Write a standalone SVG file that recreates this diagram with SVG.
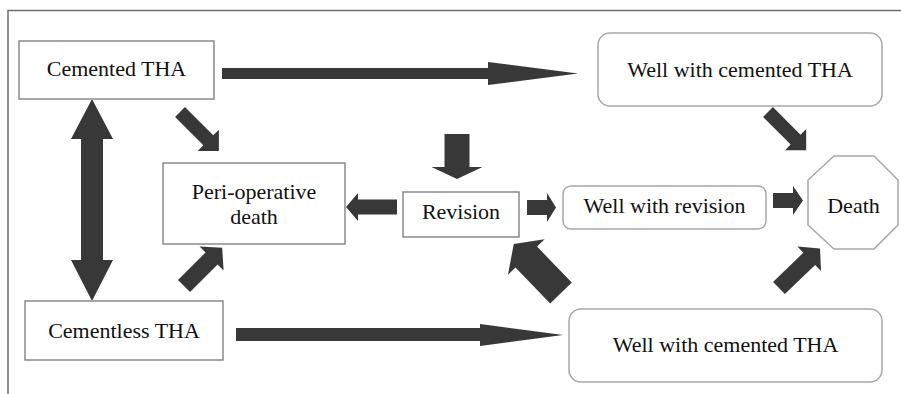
<svg xmlns="http://www.w3.org/2000/svg" width="901" height="394" viewBox="0 0 901 394">
<style>
  .box{fill:#fff;stroke:#8a8a8a;stroke-width:1.5}
  .rbox{fill:#fff;stroke:#a8a8a8;stroke-width:1.5}
  .arr{fill:#383838}
</style>
<rect width="901" height="394" fill="#fff"/>
<path d="M8 394 V10.5 H901" fill="none" stroke="#6e6e6e" stroke-width="1.5"/>

<g id="connectors">
  <polygon class="arr" points="222,68 488,68 488,62 578,73.5 488,85 488,79 222,79"/>
  <polygon class="arr" points="236,328 480,328 480,324 563,335 480,346 480,341 236,341"/>
  <polygon class="arr" points="92,99 113,139 103,139 103,260 113,260 92,301 71,260 81,260 81,139 71,139"/>
  <polygon class="arr" transform="translate(180,112) rotate(45)" points="0,-7 40,-7 40,-15 55,0 40,15 40,7 0,7"/>
  <polygon class="arr" transform="translate(184,286) rotate(-45)" points="0,-8.5 39,-8.5 39,-17 54,0 39,17 39,8.5 0,8.5"/>
  <polygon class="arr" transform="translate(397,207) rotate(180)" points="0,-7.5 39,-7.5 39,-14 51,0 39,14 39,7.5 0,7.5"/>
  <polygon class="arr" transform="translate(457,134) rotate(90)" points="0,-12.5 33,-12.5 33,-25.5 45,0 33,25.5 33,12.5 0,12.5"/>
  <polygon class="arr" transform="translate(527,207.5)" points="0,-7.5 20,-7.5 20,-14.5 29,0 20,14.5 20,7.5 0,7.5"/>
  <polygon class="arr" transform="translate(773,200.5)" points="0,-7.5 20,-7.5 20,-14.5 30,0 20,14.5 20,7.5 0,7.5"/>
  <polygon class="arr" transform="translate(768,112) rotate(45)" points="0,-7 39,-7 39,-15 54,0 39,15 39,7 0,7"/>
  <polygon class="arr" transform="translate(779,288) rotate(-44)" points="0,-8.5 42,-8.5 42,-17 57,0 42,17 42,8.5 0,8.5"/>
  <polygon class="arr" transform="translate(561,293) rotate(-134)" points="0,-15 50,-15 50,-25.5 68,0 50,25.5 50,15 0,15"/>
</g>

<g id="cemented">
  <rect class="box" x="19" y="41" width="195" height="58"/>
  <text x="116.5" y="76" text-anchor="middle" fill="#111" font-family="Liberation Serif" font-size="22" style="font-family:'Liberation Serif',serif;font-size:22px">Cemented THA</text>
</g>
<g id="cementless">
  <rect class="box" x="25" y="301" width="198" height="59"/>
  <text x="124" y="338" text-anchor="middle" fill="#111" font-family="Liberation Serif" font-size="22" style="font-family:'Liberation Serif',serif;font-size:22px">Cementless THA</text>
</g>
<g id="periop">
  <rect class="box" x="163" y="163" width="182" height="81"/>
  <text x="254" y="199" text-anchor="middle" fill="#111" font-family="Liberation Serif" font-size="22" style="font-family:'Liberation Serif',serif;font-size:22px">Peri-operative</text>
  <text x="254" y="224" text-anchor="middle" fill="#111" font-family="Liberation Serif" font-size="22" style="font-family:'Liberation Serif',serif;font-size:22px">death</text>
</g>
<g id="revision">
  <rect class="box" x="403" y="192" width="116" height="45"/>
  <text x="461" y="219" text-anchor="middle" fill="#111" font-family="Liberation Serif" font-size="22" style="font-family:'Liberation Serif',serif;font-size:22px">Revision</text>
</g>
<g id="well-cemented-top">
  <rect class="rbox" x="598" y="33" width="284" height="73" rx="12"/>
  <text x="740" y="77" text-anchor="middle" fill="#111" font-family="Liberation Serif" font-size="22" style="font-family:'Liberation Serif',serif;font-size:22px">Well with cemented THA</text>
</g>
<g id="well-revision">
  <rect class="rbox" x="563" y="186" width="203" height="43" rx="8"/>
  <text x="664.5" y="213" text-anchor="middle" fill="#111" font-family="Liberation Serif" font-size="22" style="font-family:'Liberation Serif',serif;font-size:22px">Well with revision</text>
</g>
<g id="well-cemented-bottom">
  <rect class="rbox" x="569" y="309" width="313" height="73" rx="12"/>
  <text x="725.5" y="352" text-anchor="middle" fill="#111" font-family="Liberation Serif" font-size="22" style="font-family:'Liberation Serif',serif;font-size:22px">Well with cemented THA</text>
</g>
<g id="death">
  <polygon class="rbox" points="834,156 874,156 898,180 898,225 874,249 834,249 808,225 808,180"/>
  <text x="853.5" y="213" text-anchor="middle" fill="#111" font-family="Liberation Serif" font-size="22" style="font-family:'Liberation Serif',serif;font-size:22px">Death</text>
</g>
</svg>
